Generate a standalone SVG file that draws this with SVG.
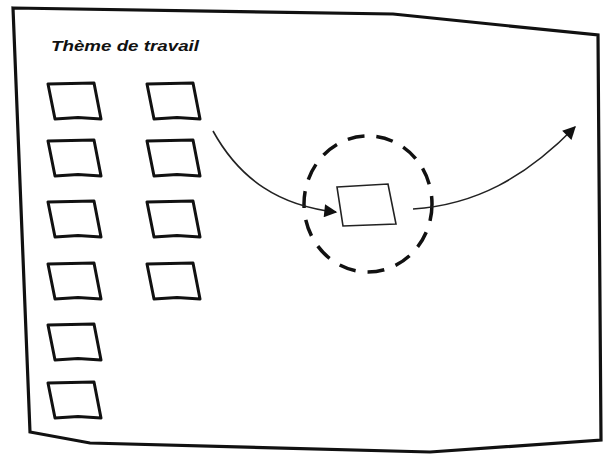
<svg xmlns="http://www.w3.org/2000/svg" xmlns:xlink="http://www.w3.org/1999/xlink" width="603" height="455" viewBox="0 0 603 455">
  <style>
    .frame { fill: #fff; stroke: #111; stroke-width: 3.2; stroke-linejoin: miter; }
    .box { fill: none; stroke: #111; stroke-width: 3; stroke-linejoin: round; }
    .title { font-family: "Liberation Sans", Arial, sans-serif; font-style: italic; font-weight: bold; font-size: 15px; fill: #111; }
    .conn { fill: none; stroke: #222; stroke-width: 1.6; }
    .ring { fill: none; stroke: #111; stroke-width: 3.5; stroke-dasharray: 17 12; }
    .inner { fill: #fff; stroke: #222; stroke-width: 1.6; }
  </style>
  <defs>
    <path id="bx" d="M0,1 L46,0 L53,36 L30,34.5 L7,36 Z"/>
    <marker id="ah" viewBox="0 0 10 10" refX="9" refY="5" markerWidth="14" markerHeight="13" markerUnits="userSpaceOnUse" orient="auto">
      <path d="M0,0 L10,5 L0,10 Z" fill="#111"/>
    </marker>
  </defs>
  <rect x="0" y="0" width="603" height="455" fill="#fff"/>
  <g id="frame">
    <path class="frame" d="M13,8 L393,14 L598,35 L601,440 L430,452 L90,443 L30,432 Z"/>
  </g>
  <g id="title">
    <text class="title" x="51" y="51" textLength="148" lengthAdjust="spacingAndGlyphs">Thème de travail</text>
  </g>
  <g id="box-l1" class="box"><use xlink:href="#bx" x="48" y="83"/></g>
  <g id="box-l2" class="box"><use xlink:href="#bx" x="48" y="140"/></g>
  <g id="box-l3" class="box"><use xlink:href="#bx" x="48" y="201"/></g>
  <g id="box-l4" class="box"><use xlink:href="#bx" x="48" y="263"/></g>
  <g id="box-l5" class="box"><use xlink:href="#bx" x="48" y="324"/></g>
  <g id="box-l6" class="box"><use xlink:href="#bx" x="48" y="382"/></g>
  <g id="box-r1" class="box"><use xlink:href="#bx" x="147" y="83"/></g>
  <g id="box-r2" class="box"><use xlink:href="#bx" x="147" y="140"/></g>
  <g id="box-r3" class="box"><use xlink:href="#bx" x="147" y="201"/></g>
  <g id="box-r4" class="box"><use xlink:href="#bx" x="147" y="263"/></g>
  <g id="focus">
    <ellipse class="ring" cx="368" cy="204" rx="64" ry="68"/>
    <path class="inner" d="M337,187 L388,184 L396,224 L343,226 Z"/>
  </g>
  <g id="connectors">
    <path class="conn" d="M213,131 C240,180 280,206 336,212" marker-end="url(#ah)"/>
    <path class="conn" d="M413,209 C475,205 525,178 575,127" marker-end="url(#ah)"/>
  </g>
</svg>
